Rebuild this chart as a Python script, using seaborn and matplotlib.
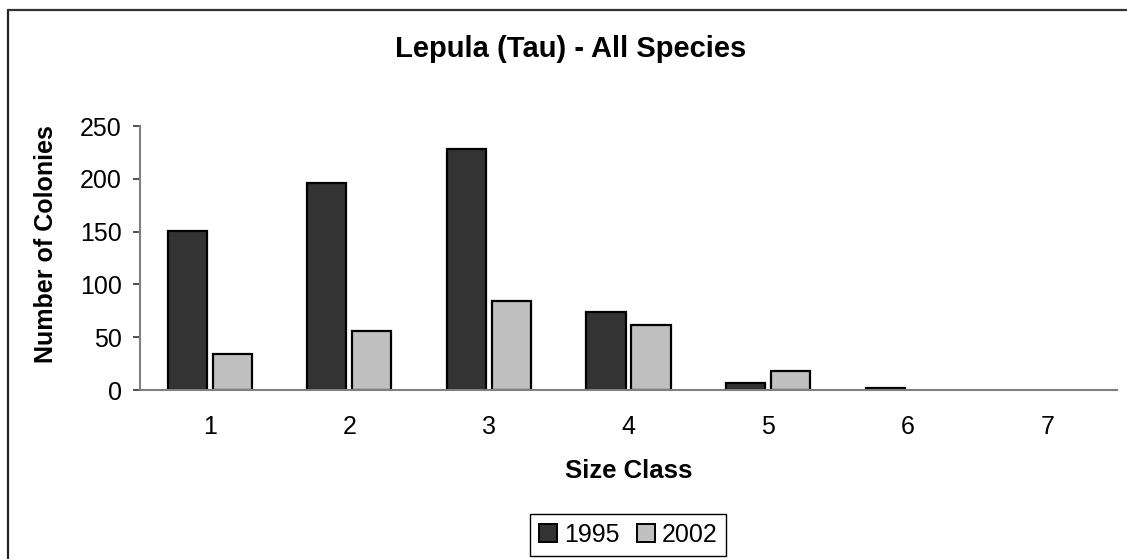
import matplotlib
matplotlib.use("Agg")
import matplotlib.pyplot as plt
from matplotlib.lines import Line2D
import pandas as pd
import seaborn as sns

size_classes = ["1", "2", "3", "4", "5", "6", "7"]
colonies_1995 = [151, 196, 228, 74, 7, 2, 0]
colonies_2002 = [34, 56, 84, 62, 18, 0, 0]
years = ["1995", "2002"]
year_colors = ["#333333", "#c0c0c0"]
y_ticks = [0, 50, 100, 150, 200, 250]

df = pd.DataFrame({
    "Size Class": size_classes * 2,
    "Colonies": colonies_1995 + colonies_2002,
    "Year": [years[0]] * len(size_classes) + [years[1]] * len(size_classes),
})

sns.set_style("white")
plt.rcParams["font.family"] = ["Liberation Sans", "DejaVu Sans"]
plt.rcParams["text.color"] = "black"
plt.rcParams["axes.labelcolor"] = "black"

W, H = 1127, 559
fig = plt.figure(figsize=(W / 100, H / 100), dpi=100)
ax = fig.add_axes([140 / W, 1 - 390 / H, 977 / W, 264 / H])

sns.barplot(
    data=df, x="Size Class", y="Colonies", hue="Year",
    order=size_classes, hue_order=years,
    palette=dict(zip(years, year_colors)),
    width=0.645, gap=0.13, edgecolor="black", linewidth=1.6,
    saturation=1, ax=ax, legend=True,
)

# zero-height bars leave no visible mark
for p in ax.patches:
    if p.get_height() == 0:
        p.set_linewidth(0)

ax.set_xlim(-0.5, len(size_classes) - 0.5)
ax.set_ylim(0, 250)
ax.set_yticks(y_ticks)

for side in ["top", "right"]:
    ax.spines[side].set_visible(False)
for side in ["left", "bottom"]:
    ax.spines[side].set_color("#808080")
    ax.spines[side].set_linewidth(1.5)

ax.tick_params(axis="y", left=True, length=5, width=1.2, color="#333333",
               labelsize=18, pad=8, labelcolor="black")
ax.tick_params(axis="x", bottom=False, length=0, labelsize=18, pad=18,
               labelcolor="black")

ax.set_xlabel("Size Class", fontsize=18.5, fontweight="bold", color="black")
ax.set_ylabel("Number of Colonies", fontsize=18, fontweight="bold", color="black")
ax.xaxis.set_label_coords(0.5, -(471 - 390) / 264)
ax.yaxis.set_label_coords((46 - 140) / 977, (390 - 244) / 264)
ax.xaxis.label.set_va("center")
ax.yaxis.label.set_va("center")

fig.text(571 / W, 1 - 49 / H, "Lepula (Tau) - All Species",
         ha="center", va="center", fontsize=21, fontweight="bold", color="black")

handles, labels = ax.get_legend_handles_labels()
for h in handles:
    h.set_edgecolor("black")
    h.set_linewidth(1.4)
leg = ax.legend(handles, labels, ncol=2, loc="center",
                bbox_to_anchor=(628 / W, 1 - 535 / H), bbox_transform=fig.transFigure,
                frameon=True, fancybox=False, edgecolor="black", framealpha=1,
                fontsize=18, handlelength=0.75, handleheight=0.75,
                handletextpad=0.25, columnspacing=0.7, borderpad=0.35,
                borderaxespad=0)
leg.get_frame().set_linewidth(1.0)
for t in leg.get_texts():
    t.set_color("black")

# outer chart frame
fig.add_artist(Line2D([8 / W, 8 / W], [1 - 10 / H, 0], transform=fig.transFigure,
                      color="#222222", linewidth=1.6))
fig.add_artist(Line2D([8 / W, 1], [1 - 10 / H, 1 - 10 / H], transform=fig.transFigure,
                      color="#333333", linewidth=1.6))

fig.savefig("out.png", dpi=100)
